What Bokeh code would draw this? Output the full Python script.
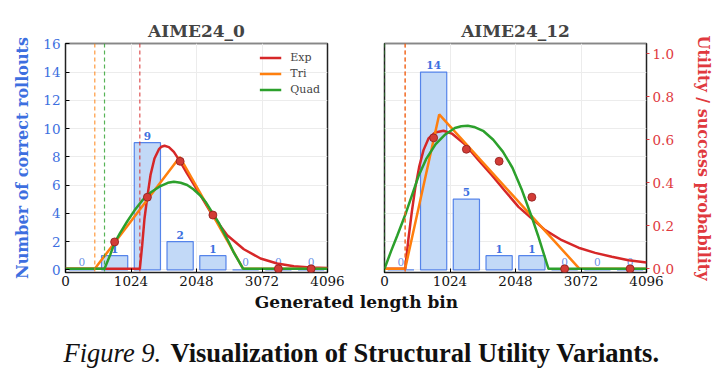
from bokeh.plotting import figure
from bokeh.layouts import column, row
from bokeh.models import (Range1d, LinearAxis, FixedTicker, Span, Legend, LegendItem,
                          Label, PrintfTickFormatter)
from bokeh.embed import file_html
from bokeh.resources import INLINE
from bokeh.core.properties import value

# ---------------- data ----------------
bin_centers = [256, 768, 1280, 1792, 2304, 2816, 3328, 3840]
bin_width = 512
x_ticks = [0, 1024, 2048, 3072, 4096]
count_ticks = [0, 2, 4, 6, 8, 10, 12, 14, 16]
util_ticks = [0.0, 0.2, 0.4, 0.6, 0.8, 1.0]

counts_0 = [0, 1, 9, 2, 1, 0, 0, 0]
counts_12 = [0, 14, 5, 1, 1, 0, 0, 0]

succ_x_0 = [768, 1280, 1792, 2304, 3328, 3840]
succ_p_0 = [0.125, 0.333, 0.5, 0.25, 0.0, 0.0]
succ_x_12 = [768, 1280, 1792, 2304, 2816, 3840]
succ_p_12 = [0.609, 0.556, 0.5, 0.333, 0.0, 0.0]

# utility curves, AIME24_0
exp_x_0 = [0, 1162, 1199, 1235, 1277, 1329, 1391, 1459, 1500, 1548, 1616, 1694, 1788,
           1902, 2111, 2298, 2528, 2788, 3049, 3309, 3570, 3830, 4096]
exp_u_0 = [0, 0, 0.110, 0.234, 0.330, 0.436, 0.513, 0.555, 0.568, 0.572, 0.566, 0.544,
           0.501, 0.443, 0.342, 0.249, 0.156, 0.091, 0.048, 0.025, 0.012, 0.006, 0.004]
tri_x_0 = [0, 458, 1787, 2778, 4096]
tri_u_0 = [0, 0, 0.52, 0, 0]
quad_x_0 = [0, 610, 700, 766, 850, 964, 1080, 1200, 1330, 1485, 1600, 1694, 1800, 1902,
            2000, 2111, 2200, 2298, 2400, 2475, 2560, 2632, 2700, 2778, 4096]
quad_u_0 = [0, 0, 0.066, 0.12, 0.165, 0.22, 0.272, 0.318, 0.355, 0.385, 0.40, 0.405, 0.40,
            0.39, 0.37, 0.34, 0.307, 0.26, 0.212, 0.168, 0.12, 0.075, 0.04, 0, 0]

# utility curves, AIME24_12
exp_x_12 = [0, 323, 375, 427, 479, 542, 610, 688, 792, 922, 1053, 1261, 1470, 1678, 1887,
            2095, 2303, 2512, 2772, 3033, 3294, 3554, 3815, 4096]
exp_u_12 = [0, 0, 0.141, 0.265, 0.373, 0.474, 0.552, 0.606, 0.634, 0.642, 0.629, 0.578,
            0.505, 0.435, 0.361, 0.288, 0.234, 0.180, 0.133, 0.098, 0.074, 0.056, 0.040, 0.029]
tri_x_12 = [0, 323, 855, 3049, 4096]
tri_u_12 = [0, 0, 0.718, 0, 0]
quad_x_12 = [0, 100, 200, 323, 450, 531, 650, 800, 950, 1100, 1200, 1303, 1400, 1550, 1700,
             1850, 2000, 2150, 2303, 2400, 2500, 2564, 4096]
quad_u_12 = [0, 0.08, 0.155, 0.25, 0.36, 0.43, 0.51, 0.58, 0.625, 0.655, 0.663, 0.665, 0.66,
             0.64, 0.60, 0.545, 0.47, 0.365, 0.24, 0.155, 0.06, 0, 0]

# curve start thresholds (dashed markers)
start_0 = {"Tri": 458, "Quad": 610, "Exp": 1162}
start_12 = {"Exp": 323, "Tri": 323, "Quad": 0}

# ---------------- style ----------------
SERIF = "DejaVu Serif"
BLUE = "#3d6fe0"
RED_AX = "#e0393e"
C_EXP = "#d62728"
C_TRI = "#ff7f0e"
C_QUAD = "#2ca02c"
BAR_FILL = "#c2d9f7"
BAR_LINE = "#5584ea"
GRID = "#ececec"
TICK_SIZE = "13.5px"
PANEL_H = 292


def make_panel(title, counts, sx, sp, curves, starts, width, mb_left, mb_right,
               left_visible, right_axis, legend):
    p = figure(width=width, height=PANEL_H, x_range=Range1d(0, 4096),
               y_range=Range1d(-0.19, 16.02), output_backend="svg",
               toolbar_location=None, min_border_left=mb_left,
               min_border_right=mb_right, min_border_top=43, min_border_bottom=20)
    p.extra_y_ranges = {"util": Range1d(-0.0172, 1.0479)}
    p.background_fill_color = "white"
    p.border_fill_color = "white"
    p.outline_line_color = "#222222"
    p.outline_line_width = 1.5

    p.title.text = title
    p.title.align = "center"
    p.title.text_font = SERIF
    p.title.text_font_style = "bold"
    p.title.text_font_size = "17px"
    p.title.standoff = 5

    xa = p.xaxis[0]
    xa.ticker = FixedTicker(ticks=x_ticks)
    xa.axis_line_color = None
    xa.major_tick_in = 4
    xa.major_tick_out = 0
    xa.minor_tick_line_color = None
    xa.major_label_standoff = 3
    xa.major_label_text_font = SERIF
    xa.major_label_text_font_size = TICK_SIZE
    xa.major_label_text_color = "#111111"

    ya = p.yaxis[0]
    ya.ticker = FixedTicker(ticks=count_ticks)
    ya.axis_line_color = None
    ya.major_tick_in = 4
    ya.major_tick_out = 0
    ya.minor_tick_line_color = None
    ya.major_label_standoff = 5
    ya.major_label_text_font = SERIF
    ya.major_label_text_font_size = TICK_SIZE
    ya.major_label_text_color = BLUE
    if left_visible:
        ya.axis_label = "Number of correct rollouts"
        ya.axis_label_text_font = SERIF
        ya.axis_label_text_font_style = "bold"
        ya.axis_label_text_font_size = "16px"
        ya.axis_label_text_color = BLUE
        ya.axis_label_standoff = 8
    else:
        ya.visible = False

    p.xgrid.grid_line_color = GRID
    p.ygrid.grid_line_color = GRID

    # histogram of correct rollouts
    p.vbar(x=bin_centers, top=counts, bottom=0, width=0.8 * bin_width,
           fill_color=BAR_FILL, line_color=BAR_LINE, line_width=1.2)
    nz = [i for i, c in enumerate(counts) if c > 0]
    zz = [i for i, c in enumerate(counts) if c == 0]
    p.text(x=[bin_centers[i] for i in nz], y=[counts[i] for i in nz],
           text=[str(counts[i]) for i in nz], text_align="center",
           text_baseline="bottom", y_offset=-3, text_font=value(SERIF),
           text_font_style="bold", text_font_size="10.5px", text_color=BLUE)
    p.text(x=[bin_centers[i] for i in zz], y=[counts[i] for i in zz],
           text=["0" for _ in zz], text_align="center",
           text_baseline="bottom", y_offset=-4, text_font=value(SERIF),
           text_font_size="10.5px", text_color=BLUE, text_alpha=0.8)

    # threshold markers
    dash_col = {"Exp": C_EXP, "Tri": C_TRI, "Quad": C_QUAD}
    for name, loc in starts.items():
        p.add_layout(Span(location=loc, dimension="height", line_color=dash_col[name],
                          line_dash="4 3", line_width=1.2, line_alpha=0.8))

    # utility curves
    rends = {}
    for name, (cx, cu) in curves.items():
        rends[name] = p.line(cx, cu, y_range_name="util", line_color=dash_col[name],
                             line_width=2.5)

    # empirical success probability per bin
    p.scatter(sx, sp, y_range_name="util", size=8, fill_color="#d23c36",
              line_color="#8e1d1d", line_width=0.8)

    if right_axis:
        ra = LinearAxis(y_range_name="util", ticker=FixedTicker(ticks=util_ticks),
                        formatter=PrintfTickFormatter(format="%.1f"))
        ra.axis_line_color = None
        ra.major_tick_in = 0
        ra.major_tick_out = 3
        ra.major_tick_line_color = RED_AX
        ra.minor_tick_line_color = None
        ra.major_label_standoff = 3
        ra.major_label_text_font = SERIF
        ra.major_label_text_font_size = TICK_SIZE
        ra.major_label_text_color = RED_AX
        ra.axis_label = "Utility / success probability"
        ra.axis_label_text_font = SERIF
        ra.axis_label_text_font_style = "bold"
        ra.axis_label_text_font_size = "16px"
        ra.axis_label_text_color = RED_AX
        ra.axis_label_standoff = 17
        p.add_layout(ra, "right")

    if legend:
        lg = Legend(items=[LegendItem(label=n, renderers=[rends[n]]) for n in ["Exp", "Tri", "Quad"]],
                    location="top_right")
        lg.label_text_font = SERIF
        lg.label_text_font_size = "11px"
        lg.glyph_width = 22
        lg.glyph_height = 15
        lg.label_height = 15
        lg.spacing = 1
        lg.padding = 4
        lg.margin = 3
        lg.label_standoff = 9
        lg.background_fill_alpha = 0
        lg.border_line_alpha = 0
        p.add_layout(lg)
    return p


p0 = make_panel("AIME24_0", counts_0, succ_x_0, succ_p_0,
                {"Exp": (exp_x_0, exp_u_0), "Tri": (tri_x_0, tri_u_0),
                 "Quad": (quad_x_0, quad_u_0)},
                start_0, 355, 65, 28, True, False, True)
p12 = make_panel("AIME24_12", counts_12, succ_x_12, succ_p_12,
                 {"Exp": (exp_x_12, exp_u_12), "Tri": (tri_x_12, tri_u_12),
                  "Quad": (quad_x_12, quad_u_12)},
                 start_12, 368, 29, 77, False, True, False)

# shared x label and figure caption
pb = figure(width=723, height=381 - PANEL_H, x_range=Range1d(0, 723),
            y_range=Range1d(381, PANEL_H), output_backend="svg", toolbar_location=None,
            x_axis_location=None, y_axis_location=None, min_border=0)
pb.outline_line_color = None
pb.xgrid.visible = False
pb.ygrid.visible = False
pb.add_layout(Label(x=356, y=301, text="Generated length bin", text_align="center",
                    text_baseline="middle", text_font=SERIF, text_font_style="bold",
                    text_font_size="17px", text_color="#111111"))
pb.add_layout(Label(x=63, y=352, text="Figure 9.", text_align="left",
                    text_baseline="alphabetic", text_font="Liberation Serif",
                    text_font_style="italic", text_font_size="26.5px", text_color="#111111"))
pb.add_layout(Label(x=170, y=352, text="Visualization of Structural Utility Variants.",
                    text_align="left", text_baseline="alphabetic",
                    text_font="Liberation Serif", text_font_style="bold",
                    text_font_size="26.5px", text_color="#111111"))

layout = column(row(p0, p12), pb)
open("out.html", "w").write(file_html(layout, INLINE))
